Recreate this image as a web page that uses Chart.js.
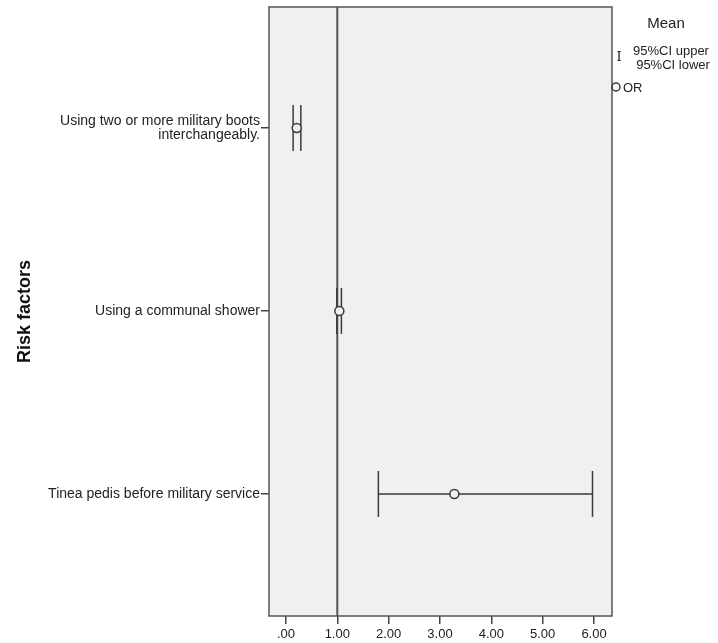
<!DOCTYPE html>
<html>
<head>
<meta charset="utf-8">
<script src="https://cdn.jsdelivr.net/npm/chart.js@4.4.1/dist/chart.umd.min.js"></script>
<style>
  html, body { margin: 0; padding: 0; background: #ffffff; }
</style>
</head>
<body>
<canvas id="myChart" width="718" height="643"></canvas>
<script>
// Risk factors (top to bottom) and their odds ratios with 95% CI
const riskFactors = [
    ["Using two or more military boots", "interchangeably."],
    "Using a communal shower",
    "Tinea pedis before military service"
];
const rowPositions = [1, 2, 3];
const oddsRatio = [0.21, 1.04, 3.28];
const ciLower = [0.14, 0.99, 1.80];
const ciUpper = [0.29, 1.08, 5.97];
const xTicks = [0, 1, 2, 3, 4, 5, 6];
const referenceOR = 1;

const lineColor = "#3a3a3a";

// plot background + frame like the SPSS output
const plotFrame = {
    id: "plotFrame",
    beforeDraw(chart) {
        const { ctx, chartArea: a } = chart;
        ctx.save();
        ctx.fillStyle = "#f0f0f0";
        ctx.fillRect(a.left, a.top, a.right - a.left, a.bottom - a.top);
        ctx.restore();
    },
    afterDraw(chart) {
        const { ctx, chartArea: a } = chart;
        ctx.save();
        ctx.strokeStyle = "#555555";
        ctx.lineWidth = 1.5;
        ctx.strokeRect(a.left, a.top, a.right - a.left, a.bottom - a.top);
        ctx.restore();
    }
};

// small legend at the top right
const meanLegend = {
    id: "meanLegend",
    afterDraw(chart) {
        const ctx = chart.ctx;
        ctx.save();
        ctx.fillStyle = "#222222";
        ctx.textBaseline = "middle";
        ctx.textAlign = "center";
        ctx.font = "15px 'Liberation Sans', Arial, sans-serif";
        ctx.fillText("Mean", 666, 24);
        ctx.font = "13px 'Liberation Sans', Arial, sans-serif";
        ctx.fillText("95%CI upper", 671, 51);
        ctx.fillText("95%CI lower", 673, 65);
        ctx.font = "13px 'DejaVu Serif', serif";
        ctx.fillText("I", 619, 58);
        ctx.textAlign = "left";
        ctx.font = "13px 'Liberation Sans', Arial, sans-serif";
        ctx.fillText("OR", 623, 88);
        ctx.beginPath();
        ctx.arc(616, 87, 4, 0, Math.PI * 2);
        ctx.strokeStyle = lineColor;
        ctx.lineWidth = 1.5;
        ctx.stroke();
        ctx.restore();
    }
};

// one dataset per CI line
const ciLines = rowPositions.map((y, i) => ({
    type: "line",
    data: [{ x: ciLower[i], y: y }, { x: ciUpper[i], y: y }],
    borderColor: lineColor,
    borderWidth: 1.5,
    pointRadius: 0,
    order: 3
}));

const capPoints = [];
rowPositions.forEach((y, i) => {
    capPoints.push({ x: ciLower[i], y: y });
    capPoints.push({ x: ciUpper[i], y: y });
});

const datasets = [
    {
        type: "line",
        data: [{ x: referenceOR, y: 0.339 }, { x: referenceOR, y: 3.667 }],
        borderColor: "#555555",
        borderWidth: 2,
        pointRadius: 0,
        order: 4
    },
    ...ciLines,
    {
        type: "scatter",
        data: capPoints,
        pointStyle: "line",
        rotation: 90,
        pointRadius: 23,
        borderColor: lineColor,
        borderWidth: 1.5,
        order: 2
    },
    {
        type: "scatter",
        data: rowPositions.map((y, i) => ({ x: oddsRatio[i], y: y })),
        pointStyle: "circle",
        pointRadius: 4.5,
        backgroundColor: "#f0f0f0",
        borderColor: lineColor,
        borderWidth: 1.5,
        order: 1
    }
];

const config = {
    type: "scatter",
    data: { datasets: datasets },
    options: {
        responsive: false,
        animation: false,
        events: [],
        layout: { autoPadding: false, padding: { top: 7, right: 106, left: 0, bottom: 0 } },
        plugins: {
            legend: { display: false },
            tooltip: { enabled: false }
        },
        scales: {
            x: {
                type: "linear",
                min: -0.33,
                max: 6.35,
                afterBuildTicks: (scale) => { scale.ticks = xTicks.map(v => ({ value: v })); },
                afterFit: (scale) => {
                    scale.height = 27;
                    scale.paddingLeft = 0;
                    scale.paddingRight = 0;
                },
                border: { display: false },
                grid: { drawOnChartArea: false, tickLength: 8, color: "#444444", lineWidth: 1.5 },
                ticks: {
                    color: "#222222",
                    padding: 3,
                    maxRotation: 0,
                    font: { family: "'Liberation Sans', Arial, sans-serif", size: 13 },
                    callback: (v) => v === 0 ? ".00" : v.toFixed(2)
                }
            },
            y: {
                type: "linear",
                reverse: true,
                min: 0.339,
                max: 3.667,
                afterBuildTicks: (scale) => { scale.ticks = rowPositions.map(v => ({ value: v })); },
                afterFit: (scale) => {
                    scale.width = 269;
                    scale.paddingTop = 0;
                    scale.paddingBottom = 0;
                },
                border: { display: false },
                grid: { drawOnChartArea: false, tickLength: 8, color: "#444444", lineWidth: 1.5 },
                title: {
                    display: true,
                    text: "Risk factors",
                    color: "#111111",
                    padding: { top: 14, bottom: 0 },
                    font: { family: "'Liberation Sans', Arial, sans-serif", size: 18, weight: "bold" }
                },
                ticks: {
                    color: "#222222",
                    padding: 1,
                    font: { family: "'Liberation Sans', Arial, sans-serif", size: 14, lineHeight: 1.0 },
                    callback: (v) => riskFactors[rowPositions.indexOf(v)]
                }
            }
        }
    },
    plugins: [plotFrame, meanLegend]
};

const myChart = new Chart(document.getElementById("myChart"), config);
</script>
</body>
</html>
